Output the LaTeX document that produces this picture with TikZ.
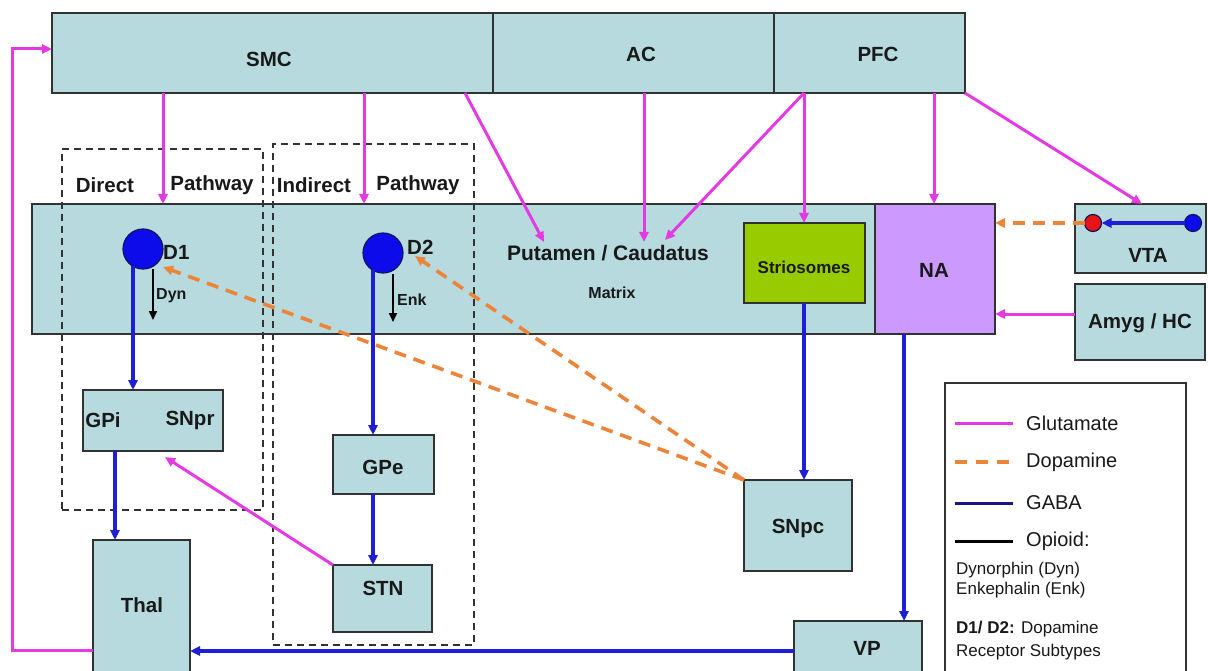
\documentclass[tikz,border=0pt]{standalone}
\usepackage{fontspec}
\setmainfont{Liberation Sans}
\usetikzlibrary{arrows.meta,calc}
\definecolor{boxfill}{RGB}{182,218,222}
\definecolor{boxline}{RGB}{50,50,50}
\definecolor{glu}{RGB}{228,58,228}
\definecolor{dopa}{RGB}{236,132,58}
\definecolor{gaba}{RGB}{30,30,215}
\definecolor{gabaleg}{RGB}{22,22,125}
\definecolor{strgreen}{RGB}{153,204,0}
\definecolor{napurple}{RGB}{204,153,255}
\definecolor{cellblue}{RGB}{12,12,235}
\definecolor{cellline}{RGB}{20,20,90}
\definecolor{reddot}{RGB}{230,20,20}
\begin{document}
\begin{tikzpicture}[x=1pt,y=-1pt,
  box/.style={draw=boxline, line width=1.6pt, fill=boxfill, inner sep=0pt, outer sep=0pt, anchor=north west},
  pathbox/.style={draw=boxline, line width=1.6pt, dash pattern=on 7pt off 5pt, inner sep=0pt, outer sep=0pt, anchor=north west},
  lbl/.style={font=\fontsize{20.5}{24}\selectfont\bfseries, inner sep=0pt, text=black!90},
  slbl/.style={font=\fontsize{17}{20}\selectfont\bfseries, inner sep=0pt, text=black!90},
  tlbl/.style={font=\fontsize{16}{19}\selectfont\bfseries, inner sep=0pt, text=black!90},
  leg/.style={font=\fontsize{20}{24}\selectfont, inner sep=0pt, anchor=west, text=black!90},
  legs/.style={font=\fontsize{17}{20}\selectfont, inner sep=0pt, anchor=west, text=black!90},
  tip/.style={-{Triangle[length=10pt,width=9pt]}},
  glul/.style={draw=glu, line width=3pt, tip},
  gabal/.style={draw=gaba, line width=3.2pt, tip},
  dopal/.style={draw=dopa, line width=3.6pt, dash pattern=on 12pt off 8pt, tip},
  opil/.style={draw=black, line width=1.6pt, -{Triangle[length=9pt,width=8pt]}},
  cell/.style={circle, draw=cellline, line width=1.2pt, fill=cellblue, minimum size=40pt, inner sep=0pt, outer sep=0pt},
  dot/.style={circle, draw=cellline, line width=1.2pt, minimum size=17pt, inner sep=0pt, outer sep=0pt}
]
\useasboundingbox (0,0) rectangle (1208,671);
\fill[white] (0,0) rectangle (1208,671);

% cortex
\node[box, minimum width=441pt, minimum height=80pt] (smc) at (52,13) {};
\node[box, minimum width=281pt, minimum height=80pt] (ac) at (493,13) {};
\node[box, minimum width=191pt, minimum height=80pt] (pfc) at (774,13) {};
\node[lbl] (smcl) at (269,59) {SMC};
\node[lbl] (acl) at (641,54) {AC};
\node[lbl] (pfcl) at (878,54) {PFC};

% striatum
\node[box, minimum width=843pt, minimum height=130pt] (str) at (32,204) {};
\node[box, fill=napurple, minimum width=120pt, minimum height=130pt] (na) at (875,204) {};
\node[box, fill=strgreen, minimum width=121pt, minimum height=80pt] (strio) at (744,223) {};
\node[lbl] (nal) at (934,270) {NA};
\node[slbl] (striol) at (804,267) {Striosomes};
\node[lbl, font=\fontsize{21}{24}\selectfont\bfseries] (putl) at (608,253) {Putamen / Caudatus};
\node[tlbl] (matl) at (612,293) {Matrix};

% VTA, Amyg
\node[box, minimum width=131pt, minimum height=69pt] (vta) at (1075,204) {};
\node[lbl] (vtal) at (1148,255) {VTA};
\node[box, minimum width=130pt, minimum height=76pt] (amyg) at (1075,284) {};
\node[lbl] (amygl) at (1140,323) {Amyg / HC};

% pathway boxes
\node[pathbox, minimum width=201pt, minimum height=361pt] (direct) at (62,149) {};
\node[pathbox, minimum width=201pt, minimum height=501pt] (indirect) at (273,144) {};
\node[lbl] (dirl) at (105,185) {Direct};
\node[lbl] (dirp) at (212,185) {Pathway};
\node[lbl] (indl) at (314,185) {Indirect};
\node[lbl] (indp) at (418,185) {Pathway};

% lower boxes
\node[box, minimum width=140pt, minimum height=61pt] (gpi) at (83,390) {};
\node[lbl] (gpil) at (103,420) {GPi};
\node[lbl] (snprl) at (190,420) {SNpr};
\node[box, minimum width=101pt, minimum height=59pt] (gpe) at (333,435) {};
\node[lbl] (gpel) at (383,467) {GPe};
\node[box, minimum width=99pt, minimum height=67pt] (stn) at (333,565) {};
\node[lbl] (stnl) at (383,588) {STN};
\node[box, minimum width=97pt, minimum height=140pt] (thal) at (93,540) {};
\node[lbl] (thall) at (142,605) {Thal};
\node[box, minimum width=108pt, minimum height=91pt] (snpc) at (744,480) {};
\node[lbl] (snpcl) at (798,528) {SNpc};
\node[box, minimum width=128pt, minimum height=60pt] (vp) at (794,621) {};
\node[lbl] (vpl) at (867,648) {VP};

% receptors
\node[cell] (d1) at (143,249) {};
\node[cell] (d2) at (383,253) {};
\node[lbl, anchor=west] (d1l) at (163,252) {D1};
\node[lbl, anchor=west] (d2l) at (407,247) {D2};
\node[tlbl, anchor=west] (dynl) at (156,296) {Dyn};
\node[tlbl, anchor=west] (enkl) at (397,300) {Enk};

% VTA dots
\node[dot, fill=reddot] (rd) at (1093,223) {};
\node[dot, fill=cellblue] (bd) at (1193,223) {};

% helper coordinates
\coordinate (fb1) at (12,650);
\coordinate (fb2) at (12,49);
\coordinate (xd1) at (163,0);
\coordinate (xd2) at (364,0);
\coordinate (xp1) at (465,0);
\coordinate (putip) at (544,242);
\coordinate (xac) at (644,0);
\coordinate (actip) at (644,242);
\coordinate (xpf) at (804,0);
\coordinate (cdtip) at (665,240);
\coordinate (xna) at (934,0);
\coordinate (xvt) at (1142,0);
\coordinate (yam) at (0,314);
\coordinate (ydyn) at (0,320);
\coordinate (yenk) at (0,322);
\coordinate (xgt) at (115,0);
\coordinate (xgs) at (373,0);
\coordinate (sntip) at (165,457);
\coordinate (d1tip) at (163,267);
\coordinate (d2tip) at (415,256);
\coordinate (xvp) at (904,0);
\coordinate (ybt) at (0,651);

% glutamate
\draw[glul] (thal.west |- fb1) -- (fb1) -- (fb2) -- (smc.west |- fb2);
\draw[glul] (smc.south -| xd1) -- (str.north -| xd1);
\draw[glul] (smc.south -| xd2) -- (str.north -| xd2);
\draw[glul] (smc.south -| xp1) -- (putip);
\draw[glul] (ac.south -| xac) -- (actip);
\draw[glul] (pfc.south -| xpf) -- (cdtip);
\draw[glul] (pfc.south -| xpf) -- (strio.north -| xpf);
\draw[glul] (pfc.south -| xna) -- (na.north -| xna);
\draw[glul] (pfc.south east) -- (vta.north -| xvt);
\draw[glul] (amyg.west |- yam) -- (na.east |- yam);
\draw[glul] (stn.north west) -- (sntip);

% GABA
\draw[gabal] (d1.-120) -- (d1.-120 |- gpi.north);
\draw[gabal] (d2.-120) -- (d2.-120 |- gpe.north);
\draw[gabal] (gpi.south -| xgt) -- (thal.north -| xgt);
\draw[gabal] (gpe.south -| xgs) -- (stn.north -| xgs);
\draw[gabal] (strio.south -| xpf) -- (snpc.north -| xpf);
\draw[gabal] (na.south -| xvp) -- (vp.north -| xvp);
\draw[gabal] (vp.west |- ybt) -- (thal.east |- ybt);
\draw[gabal] (bd) -- (rd);

% opioid
\draw[opil] ([yshift=-3pt]d1.-60) -- (d1.-60 |- ydyn);
\draw[opil] ([yshift=-4pt]d2.-60) -- (d2.-60 |- yenk);

% dopamine
\draw[dopal] (snpc.north west) -- (d1tip);
\draw[dopal] (snpc.north west) -- (d2tip);
\draw[dopal] (rd) -- (na.east |- rd);

% legend
\node[box, fill=white, minimum width=241pt, minimum height=300pt] (legend) at (945,383) {};
\coordinate (lg1) at (955,423);
\coordinate (lg2) at (955,462);
\coordinate (lg3) at (955,503);
\coordinate (lg4) at (955,541);
\draw[draw=glu, line width=3pt] (lg1) -- ++(58,0);
\draw[draw=dopa, line width=3.2pt, dash pattern=on 12pt off 9pt] (lg2) -- ++(58,0);
\draw[draw=gabaleg, line width=3pt] (lg3) -- ++(58,0);
\draw[draw=black, line width=3pt] (lg4) -- ++(58,0);
\node[leg] (lt1) at (1026,423) {Glutamate};
\node[leg] (lt2) at (1026,462) {Dopamine};
\node[leg] (lt3) at (1026,503) {GABA};
\node[leg] (lt4) at (1026,541) {Opioid:};
\node[legs] (lt5) at (956,570) {Dynorphin (Dyn)};
\node[legs] (lt6) at (956,590) {Enkephalin (Enk)};
\node[legs] (lt7) at (956,629) {\textbf{D1/ D2:} Dopamine};
\node[legs] (lt8) at (956,652) {Receptor Subtypes};
\end{tikzpicture}
\end{document}
